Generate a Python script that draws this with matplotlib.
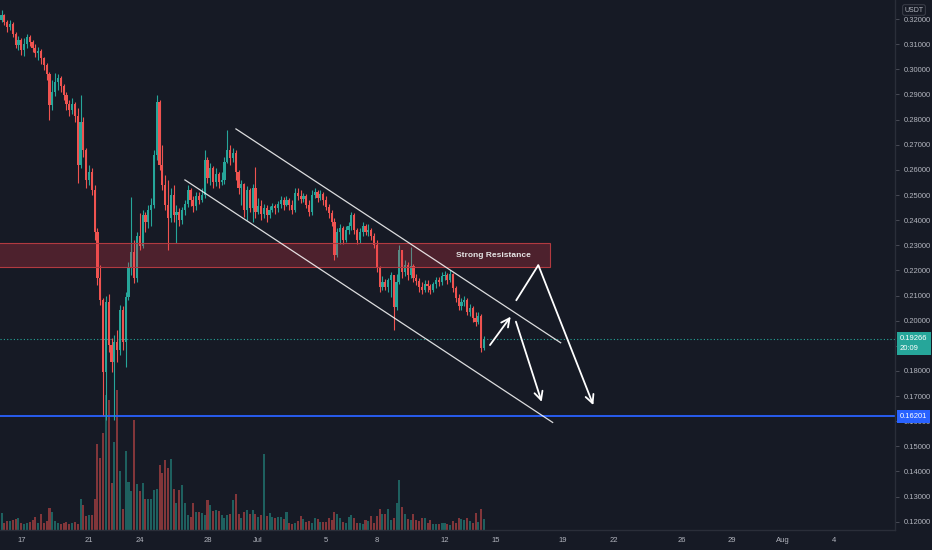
import pandas as pd
import matplotlib
matplotlib.use("Agg")
import matplotlib.pyplot as plt
import matplotlib.dates as mdates
from matplotlib.patches import Rectangle

BG = "#161a25"
UP = "#26a69a"
DOWN = "#ef5350"
TEXT = "#b2b5be"
BORDER = "#2a2e39"

plt.rcParams["font.family"] = ["Liberation Sans", "DejaVu Sans"]

# 4h candles, first one 2023-06-15 20:00
first_open = 0.3196
close = [
    0.3216, 0.3188, 0.3169, 0.3180, 0.3141, 0.3097, 0.3117, 0.3077, 0.3101, 0.3129,
    0.3109, 0.3085, 0.3065, 0.3073, 0.3045, 0.3017, 0.2981, 0.2858, 0.2910, 0.2950,
    0.2966, 0.2934, 0.2898, 0.2862, 0.2838, 0.2862, 0.2814, 0.2619, 0.2790, 0.2679,
    0.2560, 0.2591, 0.2520, 0.2353, 0.2170, 0.2082, 0.1795, 0.2074, 0.1903, 0.1835,
    0.1915, 0.1883, 0.2042, 0.1915, 0.2094, 0.2209, 0.2273, 0.2170, 0.2337, 0.2297,
    0.2420, 0.2392, 0.2440, 0.2460, 0.2659, 0.2870, 0.2619, 0.2540, 0.2460, 0.2408,
    0.2500, 0.2420, 0.2432, 0.2400, 0.2440, 0.2464, 0.2520, 0.2480, 0.2456, 0.2496,
    0.2480, 0.2500, 0.2639, 0.2568, 0.2607, 0.2552, 0.2583, 0.2552, 0.2560, 0.2631,
    0.2679, 0.2647, 0.2667, 0.2591, 0.2528, 0.2544, 0.2440, 0.2520, 0.2448, 0.2528,
    0.2432, 0.2456, 0.2424, 0.2448, 0.2420, 0.2440, 0.2456, 0.2448, 0.2464, 0.2480,
    0.2460, 0.2480, 0.2460, 0.2440, 0.2508, 0.2496, 0.2484, 0.2496, 0.2460, 0.2432,
    0.2500, 0.2512, 0.2488, 0.2504, 0.2480, 0.2452, 0.2428, 0.2392, 0.2261, 0.2353,
    0.2369, 0.2321, 0.2361, 0.2377, 0.2420, 0.2361, 0.2321, 0.2353, 0.2377, 0.2353,
    0.2361, 0.2337, 0.2301, 0.2209, 0.2134, 0.2154, 0.2134, 0.2162, 0.2182, 0.2054,
    0.2154, 0.2281, 0.2193, 0.2221, 0.2182, 0.2217, 0.2170, 0.2158, 0.2134, 0.2122,
    0.2146, 0.2138, 0.2122, 0.2146, 0.2162, 0.2154, 0.2178, 0.2182, 0.2162, 0.2186,
    0.2130, 0.2090, 0.2058, 0.2074, 0.2082, 0.2034, 0.2050, 0.2010, 0.1994, 0.2018,
    0.1891, 0.19266,
]
high = [
    0.3236, 0.3220, 0.3196, 0.3196, 0.3188, 0.3149, 0.3133, 0.3125, 0.3125, 0.3141,
    0.3137, 0.3117, 0.3101, 0.3089, 0.3081, 0.3049, 0.3025, 0.2989, 0.2958, 0.2985,
    0.2981, 0.2973, 0.2942, 0.2910, 0.2878, 0.2886, 0.2870, 0.2846, 0.2898, 0.2810,
    0.2687, 0.2619, 0.2607, 0.2540, 0.2369, 0.2221, 0.2090, 0.2098, 0.2106, 0.1931,
    0.1943, 0.1963, 0.2062, 0.2058, 0.2114, 0.2233, 0.2492, 0.2321, 0.2353, 0.2428,
    0.2440, 0.2432, 0.2460, 0.2488, 0.2679, 0.2898, 0.2878, 0.2699, 0.2580, 0.2560,
    0.2528, 0.2540, 0.2460, 0.2448, 0.2452, 0.2480, 0.2540, 0.2528, 0.2496, 0.2512,
    0.2512, 0.2528, 0.2679, 0.2651, 0.2627, 0.2615, 0.2607, 0.2591, 0.2591, 0.2651,
    0.2759, 0.2699, 0.2687, 0.2679, 0.2599, 0.2560, 0.2548, 0.2536, 0.2528, 0.2544,
    0.2611, 0.2488, 0.2480, 0.2464, 0.2460, 0.2456, 0.2468, 0.2464, 0.2476, 0.2496,
    0.2492, 0.2496, 0.2488, 0.2480, 0.2528, 0.2528, 0.2520, 0.2508, 0.2504, 0.2480,
    0.2520, 0.2528, 0.2520, 0.2520, 0.2512, 0.2496, 0.2464, 0.2440, 0.2408, 0.2369,
    0.2384, 0.2377, 0.2377, 0.2392, 0.2432, 0.2428, 0.2369, 0.2369, 0.2392, 0.2384,
    0.2384, 0.2369, 0.2349, 0.2321, 0.2217, 0.2178, 0.2166, 0.2170, 0.2193, 0.2182,
    0.2186, 0.2301, 0.2273, 0.2241, 0.2233, 0.2293, 0.2225, 0.2186, 0.2170, 0.2154,
    0.2162, 0.2162, 0.2146, 0.2154, 0.2174, 0.2174, 0.2193, 0.2197, 0.2189, 0.2201,
    0.2189, 0.2138, 0.2106, 0.2090, 0.2098, 0.2090, 0.2066, 0.2058, 0.2034, 0.2034,
    0.2026, 0.1939,
]
low = [
    0.3188, 0.3176, 0.3149, 0.3157, 0.3129, 0.3085, 0.3077, 0.3057, 0.3053, 0.3085,
    0.3093, 0.3069, 0.3049, 0.3037, 0.3021, 0.2997, 0.2958, 0.2798, 0.2838, 0.2894,
    0.2918, 0.2910, 0.2878, 0.2838, 0.2814, 0.2822, 0.2790, 0.2548, 0.2607, 0.2651,
    0.2528, 0.2540, 0.2500, 0.2321, 0.2142, 0.2062, 0.1624, 0.1604, 0.1875, 0.1795,
    0.1604, 0.1835, 0.1863, 0.1883, 0.1815, 0.2082, 0.2182, 0.2150, 0.2154, 0.2281,
    0.2289, 0.2353, 0.2369, 0.2377, 0.2448, 0.2639, 0.2599, 0.2520, 0.2440, 0.2281,
    0.2392, 0.2392, 0.2309, 0.2377, 0.2384, 0.2420, 0.2452, 0.2456, 0.2432, 0.2440,
    0.2464, 0.2472, 0.2488, 0.2548, 0.2540, 0.2528, 0.2536, 0.2528, 0.2540, 0.2544,
    0.2627, 0.2619, 0.2631, 0.2560, 0.2504, 0.2460, 0.2412, 0.2400, 0.2432, 0.2392,
    0.2408, 0.2424, 0.2400, 0.2408, 0.2392, 0.2408, 0.2432, 0.2424, 0.2432, 0.2448,
    0.2440, 0.2456, 0.2440, 0.2424, 0.2432, 0.2480, 0.2468, 0.2472, 0.2448, 0.2416,
    0.2420, 0.2488, 0.2472, 0.2480, 0.2460, 0.2440, 0.2408, 0.2377, 0.2241, 0.2253,
    0.2305, 0.2305, 0.2313, 0.2345, 0.2361, 0.2345, 0.2305, 0.2309, 0.2337, 0.2341,
    0.2337, 0.2321, 0.2289, 0.2193, 0.2114, 0.2122, 0.2122, 0.2114, 0.2094, 0.1963,
    0.2042, 0.2146, 0.2170, 0.2178, 0.2162, 0.2170, 0.2154, 0.2142, 0.2114, 0.2106,
    0.2114, 0.2114, 0.2106, 0.2114, 0.2130, 0.2138, 0.2142, 0.2162, 0.2146, 0.2154,
    0.2114, 0.2074, 0.2042, 0.2042, 0.2058, 0.2022, 0.2018, 0.1994, 0.1979, 0.1986,
    0.1875, 0.1883,
]
volume = [
    17, 7, 9, 9, 10, 11, 12, 7, 6, 7,
    8, 10, 13, 7, 16, 7, 9, 22, 18, 9,
    7, 6, 7, 8, 6, 7, 8, 6, 31, 25,
    14, 15, 15, 31, 86, 72, 97, 135, 130, 47,
    88, 140, 59, 21, 79, 48, 39, 110, 46, 39,
    47, 31, 31, 31, 40, 41, 65, 57, 70, 62,
    71, 41, 27, 40, 45, 27, 15, 13, 27, 18,
    18, 17, 15, 30, 25, 19, 20, 19, 15, 12,
    15, 16, 30, 36, 16, 12, 18, 20, 16, 20,
    16, 13, 15, 76, 14, 17, 13, 12, 13, 13,
    11, 18, 7, 6, 7, 9, 14, 11, 8, 9,
    7, 12, 11, 8, 8, 8, 12, 10, 18, 16,
    12, 8, 7, 13, 15, 12, 7, 7, 6, 10,
    9, 14, 7, 14, 21, 16, 16, 21, 10, 12,
    27, 50, 23, 16, 11, 10, 16, 10, 9, 12,
    12, 7, 10, 6, 6, 6, 7, 7, 6, 5,
    9, 7, 12, 11, 10, 12, 9, 7, 17, 8,
    21, 11,
]

last_price = 0.19266
target_price = 0.16201
countdown = "20:09"

zone_low, zone_high = 0.2213, 0.2309
zone_span = ("2023-06-14 00:00", "2023-07-18 05:30")
zone_label = ("2023-07-14 20:40", "Strong Resistance")
channel_upper = [("2023-06-29 16:20", 0.2763), ("2023-07-18 20:40", 0.1912)]
channel_lower = [("2023-06-26 16:00", 0.2560), ("2023-07-18 09:20", 0.1595)]
arrow_up = [("2023-07-14 16:30", 0.1903), ("2023-07-15 21:50", 0.2016)]
arrow_big = [("2023-07-16 05:15", 0.2079), ("2023-07-17 13:00", 0.2221),
             ("2023-07-20 19:00", 0.1664)]
arrow_down = [("2023-07-16 05:15", 0.1996), ("2023-07-17 17:45", 0.1677)]

tick_dates = ["2023-06-17", "2023-06-21", "2023-06-24", "2023-06-28", "2023-07-01",
              "2023-07-05", "2023-07-08", "2023-07-12", "2023-07-15", "2023-07-19",
              "2023-07-22", "2023-07-26", "2023-07-29", "2023-08-01", "2023-08-04"]
tick_labels = ["17", "21", "24", "28", "Jul", "5", "8", "12", "15", "19",
               "22", "26", "29", "Aug", "4"]
price_ticks = [0.12 + 0.01 * k for k in range(21)]


def d(s):
    return mdates.date2num(pd.Timestamp(s))


times = pd.date_range("2023-06-15 20:00", periods=len(close), freq="4h")
x = mdates.date2num(times)
opens = [first_open] + close[:-1]
up = [c >= o for o, c in zip(opens, close)]
colors = [UP if u else DOWN for u in up]
hi = [max(h, o, c) for h, o, c in zip(high, opens, close)]
lo = [min(l, o, c) for l, o, c in zip(low, opens, close)]
body_bottom = [min(o, c) for o, c in zip(opens, close)]
body_h = [max(abs(c - o), 0.0003) for o, c in zip(opens, close)]

fig = plt.figure(figsize=(9.32, 5.5), dpi=100, facecolor=BG)
rect = [0, 20 / 550, 895 / 932, 530 / 550]
xlim = (d("2023-06-15 17:50"), d("2023-08-07 14:40"))

# volume pane underneath
ax_vol = fig.add_axes(rect)
ax_vol.set_facecolor(BG)
ax_vol.bar(x, volume, width=0.12, color=colors, alpha=0.5, linewidth=0)
ax_vol.set_xlim(xlim)
ax_vol.set_ylim(0, 530)
ax_vol.set_xticks([])
ax_vol.set_yticks([])
for s in ax_vol.spines.values():
    s.set_visible(False)

ax = fig.add_axes(rect)
ax.patch.set_alpha(0)
ax.set_xlim(xlim)
ax.set_ylim(0.1167, 0.3276)

ax.vlines(x, lo, hi, colors=colors, linewidth=0.8, zorder=3)
ax.bar(x, body_h, bottom=body_bottom, width=0.13, color=colors, linewidth=0, zorder=3.1)

# levels
ax.axhline(last_price, color=UP, linewidth=0.8, linestyle=(0, (1, 2)), zorder=2)
ax.axhline(target_price, color="#2962ff", linewidth=1.3, zorder=2)

# resistance zone
z0, z1 = d(zone_span[0]), d(zone_span[1])
ax.add_patch(Rectangle((z0, zone_low), z1 - z0, zone_high - zone_low,
                       facecolor="#f23645", alpha=0.25, edgecolor="none", zorder=4))
ax.add_patch(Rectangle((z0, zone_low), z1 - z0, zone_high - zone_low,
                       facecolor="none", edgecolor="#b23a40", linewidth=0.8, zorder=4))
ax.text(d(zone_label[0]), (zone_low + zone_high) / 2, zone_label[1], color="#e6e6e6",
        fontsize=6, fontweight="bold", ha="center", va="center", zorder=5)

# channel
for line in (channel_upper, channel_lower):
    ax.plot([d(t) for t, _ in line], [p for _, p in line], color="white",
            linewidth=0.9, alpha=0.85, zorder=5)

# projected path
arrow_props = dict(arrowstyle="->,head_length=0.6,head_width=0.3", color="white",
                   lw=1.3, shrinkA=0, shrinkB=0)
for path in (arrow_up, arrow_big, arrow_down):
    xs = [d(t) for t, _ in path]
    ps = [p for _, p in path]
    if len(path) > 2:
        ax.plot(xs[:-1], ps[:-1], color="white", linewidth=1.3, zorder=6,
                solid_capstyle="butt")
    ax.annotate("", xy=(xs[-1], ps[-1]), xytext=(xs[-2], ps[-2]),
                arrowprops=arrow_props, zorder=6)

# axes styling; the 0.19 label sits under the live price box
ax.yaxis.tick_right()
ax.set_yticks(price_ticks)
ax.set_yticklabels(["" if abs(p - 0.19) < 1e-9 else f"{p:.5f}" for p in price_ticks])
ax.set_xticks([d(t) for t in tick_dates])
ax.set_xticklabels(tick_labels)
ax.tick_params(axis="y", colors=TEXT, labelsize=5.5, length=3, width=0.6, pad=3)
ax.tick_params(axis="y", color="#50535e")
ax.tick_params(axis="x", colors=TEXT, labelsize=5.5, length=0, pad=5)
for side in ("top", "left"):
    ax.spines[side].set_visible(False)
for side in ("right", "bottom"):
    ax.spines[side].set_color(BORDER)
    ax.spines[side].set_linewidth(1)

# price labels on the scale
ytr = ax.get_yaxis_transform()
ax.annotate(f"{last_price:.5f}\n{countdown}", xy=(1, last_price), xycoords=ytr,
            xytext=(5, 4), textcoords="offset pixels", ha="left", va="top",
            fontsize=5.5, color="white", linespacing=1.5, annotation_clip=False,
            bbox=dict(boxstyle="square,pad=0.45", fc=UP, ec="none"), zorder=10)
ax.annotate(f"{target_price:.5f}", xy=(1, target_price), xycoords=ytr,
            xytext=(5, 0), textcoords="offset pixels", ha="left", va="center",
            fontsize=5.5, color="white", annotation_clip=False,
            bbox=dict(boxstyle="square,pad=0.4", fc="#2962ff", ec="none"), zorder=10)
fig.text(914 / 932, 1 - 10 / 550, "USDT", ha="center", va="center", fontsize=5,
         color=TEXT, bbox=dict(boxstyle="round,pad=0.25", fc=BG, ec="#434651", lw=0.6))

fig.savefig("out.png", dpi=100, facecolor=BG)
